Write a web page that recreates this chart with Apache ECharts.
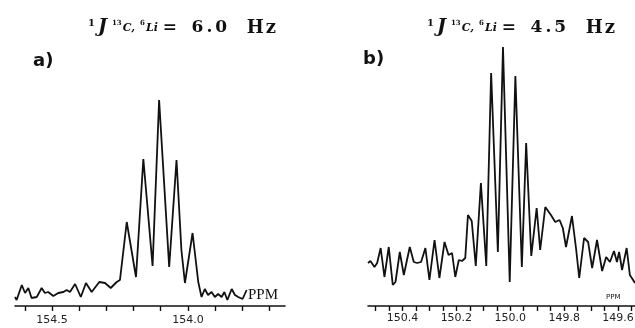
<!DOCTYPE html>
<html>
<head>
<meta charset="utf-8">
<script src="https://cdn.jsdelivr.net/npm/echarts@6/dist/echarts.min.js"></script>
<style>
    html, body { margin: 0; padding: 0; background: #fff; }
    #nmr { width: 635px; height: 328px; }
</style>
</head>
<body>
<div id="nmr"></div>
<script>
// a) 6.0 Hz coupling, ppm / intensity
const ppmA = [154.636, 154.630, 154.611, 154.599, 154.587, 154.575, 154.556, 154.538, 154.526, 154.514,
    154.495, 154.477, 154.458, 154.446, 154.434, 154.415, 154.394, 154.375, 154.354, 154.326,
    154.305, 154.284, 154.262, 154.250, 154.225, 154.191, 154.164, 154.130, 154.106, 154.069,
    154.042, 154.024, 154.011, 153.983, 153.962, 153.950, 153.938, 153.926, 153.913, 153.901,
    153.889, 153.876, 153.866, 153.855, 153.839, 153.827, 153.815, 153.799, 153.784];
const intensityA = [9, 6, 21, 13, 18, 8, 9, 18, 13, 14,
    10, 13, 14, 16, 14, 22, 9, 23, 14, 24,
    23, 18, 24, 26, 84, 29, 147, 40, 206, 39,
    146, 56, 23, 73, 24, 9, 17, 11, 14, 9,
    12, 9, 14, 6, 17, 11, 9, 7, 16];
const ticksA = [154.6, 154.5, 154.4, 154.3, 154.2, 154.1, 154.0, 153.9, 153.8, 153.7];
const labelsA = [154.5, 154.0];

// b) 4.5 Hz coupling
const ppmB = [150.528, 150.519, 150.504, 150.494, 150.481, 150.467, 150.451, 150.436, 150.426, 150.410,
    150.395, 150.373, 150.358, 150.346, 150.331, 150.315, 150.300, 150.281, 150.263, 150.244,
    150.229, 150.216, 150.204, 150.191, 150.179, 150.167, 150.157, 150.143, 150.128, 150.109,
    150.089, 150.071, 150.046, 150.027, 150.002, 149.981, 149.957, 149.941, 149.922, 149.902,
    149.889, 149.870, 149.849, 149.833, 149.817, 149.805, 149.793, 149.771, 149.756, 149.744,
    149.726, 149.711, 149.696, 149.678, 149.659, 149.644, 149.630, 149.615, 149.604, 149.596,
    149.585, 149.568, 149.556, 149.537];
const intensityB = [43, 45, 39, 43, 58, 29, 59, 21, 24, 54,
    31, 59, 44, 43, 44, 58, 26, 66, 28, 64,
    51, 53, 29, 46, 45, 48, 91, 85, 40, 123,
    40, 233, 54, 259, 24, 230, 39, 163, 50, 98,
    56, 99, 91, 84, 86, 78, 59, 90, 58, 28,
    68, 64, 38, 66, 35, 49, 44, 55, 44, 54,
    36, 58, 31, 23];
const ticksB = [150.5, 150.45, 150.4, 150.35, 150.3, 150.25, 150.2, 150.15, 150.1, 150.05,
    150.0, 149.95, 149.9, 149.85, 149.8, 149.75, 149.7, 149.65, 149.6, 149.55];
const labelsB = [150.4, 150.2, 150.0, 149.8, 149.6];

const ink = '#111';
const serif = 'DejaVu Serif';

// all pieces centred in a 28px line; uneven top/bottom padding lifts the small ones
const formulaRich = {
    s1: { fontFamily: serif, fontSize: 10, color: ink, lineHeight: 28, padding: [0, 3, 10, 0] },
    J: { fontFamily: serif, fontSize: 19, fontWeight: 'bold', fontStyle: 'italic', color: ink, lineHeight: 28, padding: [0, 3, 2, 0] },
    n: { fontFamily: serif, fontSize: 7, color: ink, lineHeight: 28, padding: [0, 1, 9, 2] },
    c: { fontFamily: serif, fontSize: 11, fontStyle: 'italic', color: ink, lineHeight: 28, padding: [0, 3, 0, 0] },
    eq: { fontFamily: serif, fontSize: 17, color: ink, lineHeight: 28, padding: [0, 13, 0, 2] },
    v: { fontFamily: serif, fontSize: 17, fontWeight: 'bold', color: ink, lineHeight: 28, padding: [0, 1.5, 0, 1.5] },
    hz: { fontFamily: serif, fontSize: 18, fontWeight: 'bold', color: ink, lineHeight: 28, padding: [0, 1, 0, 1] },
    gap: { fontFamily: serif, fontSize: 17, color: ink, lineHeight: 28, width: 17 }
};

function formula(val) {
    const digits = val.split('').map((ch) => `{v|${ch}}`).join('');
    return `{s1|1}{J|J}{n|13}{c|C,}{n|6}{c|Li}{eq|=}${digits}{gap| }{hz|H}{hz|z}`;
}

function xAxisFor(gridIndex, min, max, ticks, labels, labelMargin) {
    return {
        gridIndex,
        type: 'value',
        inverse: true,
        min,
        max,
        axisLine: { lineStyle: { color: ink, width: 1.6 } },
        axisTick: { show: true, inside: false, customValues: ticks, length: 5, lineStyle: { color: ink, width: 1.4 } },
        axisLabel: {
            customValues: labels,
            formatter: (v) => v.toFixed(1),
            fontFamily: 'DejaVu Sans',
            fontSize: 11,
            color: '#222',
            margin: labelMargin,
        },
        splitLine: { show: false },
    };
}

const chart = echarts.init(document.getElementById('nmr'), null, { renderer: 'canvas' });

chart.setOption({
    animation: false,
    backgroundColor: '#fff',
    title: [
        { text: formula('6.0'), left: 88, top: 14, padding: 0, textStyle: { rich: formulaRich } },
        { text: formula('4.5'), left: 427, top: 14, padding: 0, textStyle: { rich: formulaRich } },
        { text: 'a)', left: 33, top: 52, padding: 0, textStyle: { fontFamily: 'DejaVu Sans', fontWeight: 'bold', fontSize: 18, color: ink } },
        { text: 'b)', left: 363, top: 50, padding: 0, textStyle: { fontFamily: 'DejaVu Sans', fontWeight: 'bold', fontSize: 18, color: ink } },
        { text: 'PPM', left: 248, top: 288, padding: 0, textStyle: { fontFamily: 'Liberation Serif', fontWeight: 'normal', fontSize: 15, color: ink } },
        { text: 'PPM', left: 606, top: 294, padding: 0, textStyle: { fontFamily: 'DejaVu Sans', fontWeight: 'normal', fontSize: 7, color: ink } },
    ],
    grid: [
        { left: 15, width: 270, top: 80, bottom: 22, outerBoundsMode: 'none' },
        { left: 368, right: 0, top: 40, bottom: 22, outerBoundsMode: 'none' },
    ],
    xAxis: [
        xAxisFor(0, 153.643, 154.636, ticksA, labelsA, 9),
        xAxisFor(1, 149.537, 150.528, ticksB, labelsB, 7),
    ],
    yAxis: [
        { gridIndex: 0, type: 'value', min: 0, max: 226, show: false },
        { gridIndex: 1, type: 'value', min: 0, max: 266, show: false },
    ],
    series: [
        {
            type: 'line',
            xAxisIndex: 0,
            yAxisIndex: 0,
            data: ppmA.map((p, i) => [p, intensityA[i]]),
            showSymbol: false,
            lineStyle: { color: ink, width: 1.8 },
        },
        {
            type: 'line',
            xAxisIndex: 1,
            yAxisIndex: 1,
            data: ppmB.map((p, i) => [p, intensityB[i]]),
            showSymbol: false,
            lineStyle: { color: ink, width: 1.8 },
        },
    ],
});
</script>
</body>
</html>
